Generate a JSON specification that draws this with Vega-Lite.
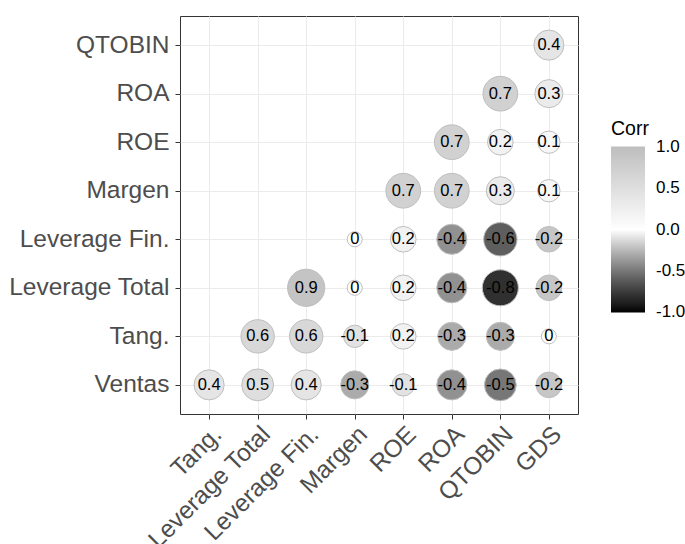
{
  "$schema": "https://vega.github.io/schema/vega-lite/v6.json",
  "width": 398,
  "height": 398,
  "autosize": {"type": "none"},
  "padding": {"left": 180, "top": 16, "right": 107, "bottom": 130},
  "background": "white",
  "config": {
    "font": "Liberation Sans",
    "view": {"stroke": "#333333", "strokeWidth": 1},
    "axis": {
      "grid": true,
      "gridColor": "#EBEBEB",
      "gridWidth": 1,
      "domain": false,
      "tickColor": "#333333",
      "tickSize": 5,
      "labelColor": "#4D4D4D",
      "labelFontSize": 24.5,
      "labelFont": "Liberation Sans",
      "title": null
    }
  },
  "data": {
    "values": [
      {"x": "Tang.", "y": "Ventas", "value": 0.4},
      {"x": "Leverage Total", "y": "Ventas", "value": 0.5},
      {"x": "Leverage Fin.", "y": "Ventas", "value": 0.4},
      {"x": "Margen", "y": "Ventas", "value": -0.3},
      {"x": "ROE", "y": "Ventas", "value": -0.1},
      {"x": "ROA", "y": "Ventas", "value": -0.4},
      {"x": "QTOBIN", "y": "Ventas", "value": -0.5},
      {"x": "GDS", "y": "Ventas", "value": -0.2},
      {"x": "Leverage Total", "y": "Tang.", "value": 0.6},
      {"x": "Leverage Fin.", "y": "Tang.", "value": 0.6},
      {"x": "Margen", "y": "Tang.", "value": -0.1},
      {"x": "ROE", "y": "Tang.", "value": 0.2},
      {"x": "ROA", "y": "Tang.", "value": -0.3},
      {"x": "QTOBIN", "y": "Tang.", "value": -0.3},
      {"x": "GDS", "y": "Tang.", "value": 0},
      {"x": "Leverage Fin.", "y": "Leverage Total", "value": 0.9},
      {"x": "Margen", "y": "Leverage Total", "value": 0},
      {"x": "ROE", "y": "Leverage Total", "value": 0.2},
      {"x": "ROA", "y": "Leverage Total", "value": -0.4},
      {"x": "QTOBIN", "y": "Leverage Total", "value": -0.8},
      {"x": "GDS", "y": "Leverage Total", "value": -0.2},
      {"x": "Margen", "y": "Leverage Fin.", "value": 0},
      {"x": "ROE", "y": "Leverage Fin.", "value": 0.2},
      {"x": "ROA", "y": "Leverage Fin.", "value": -0.4},
      {"x": "QTOBIN", "y": "Leverage Fin.", "value": -0.6},
      {"x": "GDS", "y": "Leverage Fin.", "value": -0.2},
      {"x": "ROE", "y": "Margen", "value": 0.7},
      {"x": "ROA", "y": "Margen", "value": 0.7},
      {"x": "QTOBIN", "y": "Margen", "value": 0.3},
      {"x": "GDS", "y": "Margen", "value": 0.1},
      {"x": "ROA", "y": "ROE", "value": 0.7},
      {"x": "QTOBIN", "y": "ROE", "value": 0.2},
      {"x": "GDS", "y": "ROE", "value": 0.1},
      {"x": "QTOBIN", "y": "ROA", "value": 0.7},
      {"x": "GDS", "y": "ROA", "value": 0.3},
      {"x": "GDS", "y": "QTOBIN", "value": 0.4}
    ]
  },
  "transform": [{"calculate": "abs(datum.value)", "as": "absCorr"}],
  "encoding": {
    "x": {
      "field": "x",
      "type": "nominal",
      "scale": {"type": "point", "padding": 0.6, "domain": ["Tang.", "Leverage Total", "Leverage Fin.", "Margen", "ROE", "ROA", "QTOBIN", "GDS"]},
      "axis": {"labelAngle": -45, "labelAlign": "right", "labelBaseline": "top", "labelPadding": 3}
    },
    "y": {
      "field": "y",
      "type": "nominal",
      "scale": {"type": "point", "padding": 0.6, "domain": ["QTOBIN", "ROA", "ROE", "Margen", "Leverage Fin.", "Leverage Total", "Tang.", "Ventas"]},
      "axis": {"labelPadding": 6}
    }
  },
  "layer": [
    {
      "mark": {"type": "circle", "opacity": 1, "stroke": "#BEBEBE", "strokeWidth": 1},
      "encoding": {
        "color": {
          "field": "value",
          "type": "quantitative",
          "scale": {"domain": [-1, 0, 1], "range": ["#000000", "#FFFFFF", "#BEBEBE"], "interpolate": "lab"},
          "legend": {
            "title": "Corr",
            "orient": "none",
            "legendX": 431,
            "legendY": 104,
            "direction": "vertical",
            "gradientLength": 166,
            "gradientThickness": 34,
            "gradientStrokeWidth": 0,
            "titleFontSize": 19.5,
            "titleFontWeight": "normal",
            "titleColor": "#000000",
            "titleFont": "Liberation Sans",
            "titlePadding": 7,
            "labelFontSize": 17,
            "labelColor": "#000000",
            "labelFont": "Liberation Sans",
            "labelOffset": 11,
            "labelOverlap": false,
            "values": [-0.999, -0.5, 0, 0.5, 0.999],
            "labelExpr": "datum.value < 0 ? '-' + format(-datum.value, '.1f') : format(datum.value, '.1f')"
          }
        },
        "size": {
          "field": "absCorr",
          "type": "quantitative",
          "scale": {"type": "pow", "exponent": 0.66, "domain": [0, 0.9], "range": [227, 1385]},
          "legend": null
        }
      }
    },
    {
      "mark": {"type": "text", "fontSize": 16.5, "color": "#000000", "align": "center", "baseline": "middle", "font": "Liberation Sans"},
      "encoding": {
        "text": {"field": "value", "type": "nominal"}
      }
    }
  ]
}
